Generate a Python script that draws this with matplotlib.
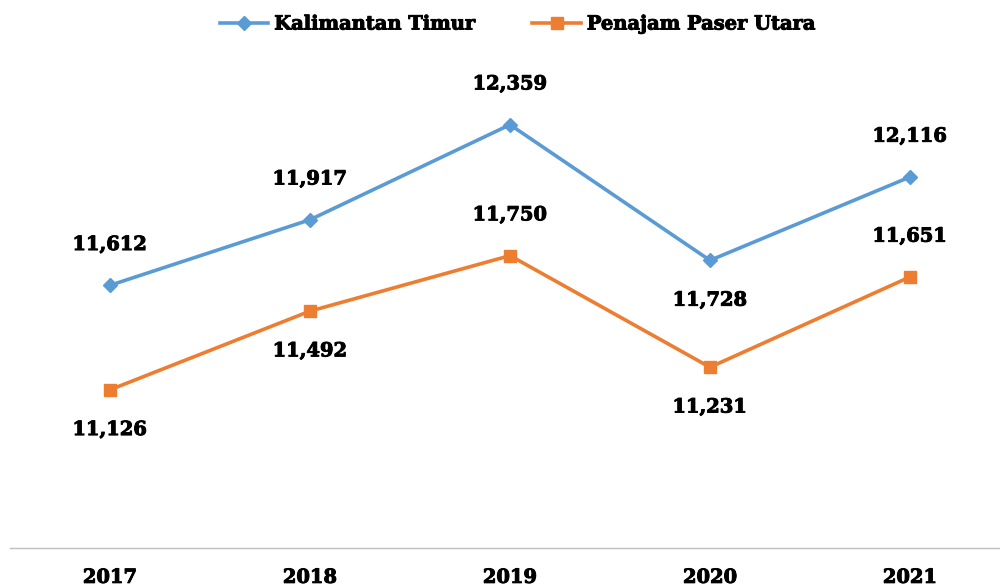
import matplotlib
matplotlib.use('Agg')
import matplotlib.pyplot as plt
import matplotlib.patheffects as pe

years = ['2017', '2018', '2019', '2020', '2021']
kaltim = [11612, 11917, 12359, 11728, 12116]
ppu = [11126, 11492, 11750, 11231, 11651]
# label above (+1) or below (-1)
kaltim_pos = [1, 1, 1, -1, 1]
ppu_pos = [-1, -1, 1, -1, 1]

blue = '#5B9BD5'
orange = '#ED7D31'
font = 'DejaVu Serif'
thick = [pe.withStroke(linewidth=0.7, foreground='black')]

fig = plt.figure(figsize=(10, 5.87), dpi=100)
ax = fig.add_axes([0.01, 0.0664, 1.0, 0.879])

x = range(len(years))
ax.plot(x, kaltim, color=blue, lw=2.6, marker='D', ms=7.5, label='Kalimantan Timur')
ax.plot(x, ppu, color=orange, lw=2.6, marker='s', ms=9, label='Penajam Paser Utara')

for vals, pos in [(kaltim, kaltim_pos), (ppu, ppu_pos)]:
    for i, (v, p) in enumerate(zip(vals, pos)):
        ax.annotate(f'{v:,}', (i, v), xytext=(0, 29 * p), textcoords='offset points',
                    ha='center', va='center', fontsize=14, fontweight='bold', family=font,
                    path_effects=thick)

ax.set_xlim(-0.5, 4.5)
ax.set_ylim(10390, 12790)
ax.set_yticks([])
ax.set_xticks(list(x))
ax.set_xticklabels(years, fontsize=14, fontweight='bold', family=font)
for t in ax.get_xticklabels():
    t.set_path_effects(thick)
ax.tick_params(axis='x', length=0, pad=15)
for s in ['top', 'right', 'left']:
    ax.spines[s].set_visible(False)
ax.spines['bottom'].set_color('#BFBFBF')
ax.spines['bottom'].set_linewidth(1)

leg = ax.legend(loc='upper center', bbox_to_anchor=(0.508, 1.066), ncol=2, frameon=False,
                prop={'family': font, 'weight': 'bold', 'size': 14}, handlelength=2.5,
                columnspacing=2.9, handletextpad=0.3)
for t in leg.get_texts():
    t.set_path_effects(thick)

fig.savefig('out.png', dpi=100)
